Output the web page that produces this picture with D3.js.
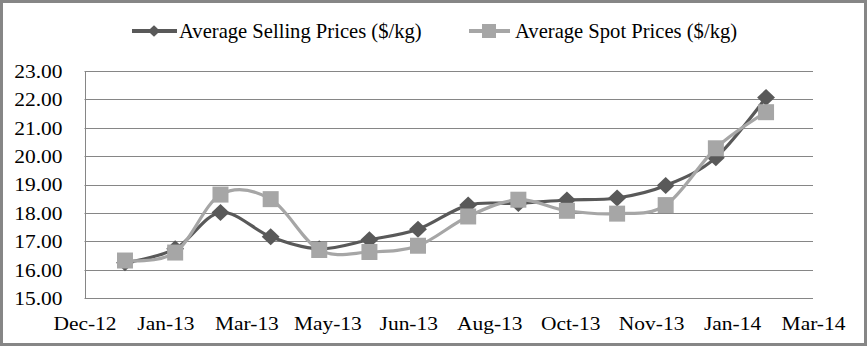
<!DOCTYPE html>
<html>
<head>
<meta charset="utf-8">
<script src="https://cdn.jsdelivr.net/npm/d3@7"></script>
<style>
  html, body { margin: 0; padding: 0; background: #fff; }
  svg { display: block; }
</style>
</head>
<body>
<svg id="chart" width="867" height="346"></svg>
<script>
// ---- data ----
const months = ["2013-01-01","2013-02-01","2013-03-01","2013-04-01","2013-05-01","2013-06-01","2013-07-01",
                "2013-08-01","2013-09-01","2013-10-01","2013-11-01","2013-12-01","2014-01-01","2014-02-01"];
const sellingPrices = [16.25, 16.74, 18.02, 17.17, 16.74, 17.06, 17.43, 18.28, 18.34, 18.46, 18.53, 18.97, 19.95, 22.07];
const spotPrices    = [16.33, 16.61, 18.65, 18.49, 16.70, 16.63, 16.85, 17.88, 18.47, 18.08, 17.98, 18.28, 20.28, 21.55];
const seriesNames = ["Average Selling Prices ($/kg)", "Average Spot Prices ($/kg)"];
const xTickDates = ["2012-12-07","2013-01-26","2013-03-17","2013-05-06","2013-06-25",
                    "2013-08-14","2013-10-03","2013-11-22","2014-01-11","2014-03-02"];
const yTicks = [15, 16, 17, 18, 19, 20, 21, 22, 23];

const parse = d3.utcParse("%Y-%m-%d");
const fmtX = d3.utcFormat("%b-%y");
const fmtY = d3.format(".2f");
const FONT = "'Liberation Serif', 'Times New Roman', serif";

const svg = d3.select("#chart");
const W = 867, H = 346;
const plot = {left: 84.5, right: 813, top: 71, bottom: 298.3};

// outer border
svg.append("rect").attr("x", 1.5).attr("y", 1.5).attr("width", W - 3).attr("height", H - 3)
  .attr("fill", "#fff").attr("stroke", "#868686").attr("stroke-width", 3);

const x = d3.scaleUtc()
  .domain([parse(xTickDates[0]), parse(xTickDates[xTickDates.length - 1])])
  .range([plot.left, plot.right]);
const y = d3.scaleLinear().domain([15, 23]).range([plot.bottom, plot.top]);

const SX = 1.16; // horizontal text stretch of the reference axis labels

// gridlines
svg.append("g").selectAll("line").data(yTicks).join("line")
  .attr("x1", plot.left).attr("x2", plot.right)
  .attr("y1", d => Math.round(y(d)) + 0.5).attr("y2", d => Math.round(y(d)) + 0.5)
  .attr("stroke", "#868686").attr("stroke-width", 1);

// y axis
const yAxis = svg.append("g").attr("transform", `translate(${Math.round(plot.left) + 0.5},0)`)
  .call(d3.axisLeft(y).tickValues(yTicks).tickFormat(fmtY).tickSize(0).tickPadding(0));
yAxis.select(".domain").attr("stroke", "#868686").attr("d", `M0,${Math.round(plot.top)+0.5}V${Math.round(plot.bottom)+0.5}`);
yAxis.selectAll("text")
  .style("font-family", FONT).style("font-size", "18.5px").attr("fill", "#000")
  .attr("x", -23 / SX).attr("dy", "0.34em")
  .attr("transform", `scale(${SX},1)`);

// x axis
const xAxis = svg.append("g").attr("transform", `translate(0,${plot.bottom})`)
  .call(d3.axisBottom(x).tickValues(xTickDates.map(parse)).tickFormat(fmtX).tickSize(0).tickPadding(0));
xAxis.select(".domain").remove();
xAxis.selectAll("text")
  .style("font-family", FONT).style("font-size", "18.5px").attr("fill", "#000")
  .attr("y", 31.5).attr("dy", 0)
  .attr("transform", `scale(${SX},1)`);

// series
const seriesDefs = [
  {name: seriesNames[0], values: sellingPrices, color: "#595959", marker: "diamond"},
  {name: seriesNames[1], values: spotPrices, color: "#a6a6a6", marker: "square"}
];

const line = d3.line()
  .x(d => x(d.date)).y(d => y(d.value))
  .curve(d3.curveCatmullRom.alpha(0));

function markerPath(type, s) {
  if (type === "diamond") {
    const hw = s * 1.05, hh = s;
    return `M0,${-hh}L${hw},0L0,${hh}L${-hw},0Z`;
  }
  return `M${-s},${-s}H${s}V${s}H${-s}Z`;
}

seriesDefs.forEach(sd => {
  const pts = months.map((m, i) => ({date: parse(m), value: sd.values[i]}));
  const g = svg.append("g");
  g.append("path").datum(pts).attr("d", line)
    .attr("fill", "none").attr("stroke", sd.color).attr("stroke-width", 3.2)
    .attr("stroke-linejoin", "round").attr("stroke-linecap", "round");
  g.selectAll("path.mk").data(pts).join("path").attr("class", "mk")
    .attr("transform", d => `translate(${x(d.date)},${y(d.value)})`)
    .attr("d", markerPath(sd.marker, sd.marker === "diamond" ? 8.5 : 8))
    .attr("fill", sd.color);
});

// legend
const legendItems = [
  {x0: 132, x1: 177, mx: 154, tx: 179},
  {x0: 469, x1: 510, mx: 489, tx: 515}
];
const ly = 31;
seriesDefs.forEach((sd, i) => {
  const li = legendItems[i];
  const g = svg.append("g");
  g.append("line").attr("x1", li.x0).attr("x2", li.x1).attr("y1", ly).attr("y2", ly)
    .attr("stroke", sd.color).attr("stroke-width", 4);
  g.append("path").attr("transform", `translate(${li.mx},${ly})`)
    .attr("d", markerPath(sd.marker, sd.marker === "diamond" ? 5.8 : 7)).attr("fill", sd.color);
  g.append("text").attr("x", li.tx).attr("y", 37.5)
    .style("font-family", FONT).style("font-size", "20.6px").attr("fill", "#000")
    .text(sd.name);
});
</script>
</body>
</html>
